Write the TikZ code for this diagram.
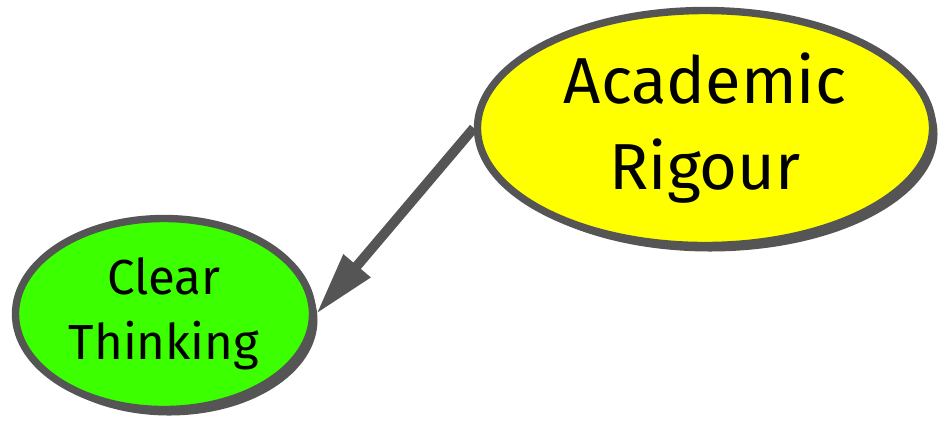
\documentclass[tikz,border=0pt]{standalone}
\usepackage{fontspec}
\setmainfont{Fira Sans}
\usetikzlibrary{shapes.geometric, arrows.meta, shadows}

\definecolor{rim}{HTML}{555555}
\definecolor{idea}{HTML}{FFFF00}
\definecolor{leaf}{HTML}{3CFF00}

\tikzset{
	bubble/.style={ellipse, draw=rim, line width=2.1pt, align=center, inner sep=0pt,
		drop shadow={shadow xshift=0.05cm, shadow yshift=-0.06cm, fill=rim, opacity=1}},
	link/.style={draw=rim, line width=2.8pt, -{Triangle[length=18pt, width=9.4pt]}}
}

\begin{document}
\begin{tikzpicture}
	\useasboundingbox (0, 0) rectangle (9.44, 4.23);

	\node[bubble, fill=idea, minimum width=4.55cm, minimum height=2.35cm,
		font=\fontsize{18.5}{24.7}\selectfont](AR) at (7.05, 2.95){Academic\\Rigour};
	\node[bubble, fill=leaf, minimum width=2.97cm, minimum height=1.91cm,
		font=\fontsize{14}{18.5}\selectfont](CT) at (1.64, 1.09){Clear\\Thinking};

	\draw [link] (AR.west) -- (CT.east);
\end{tikzpicture}
\end{document}
